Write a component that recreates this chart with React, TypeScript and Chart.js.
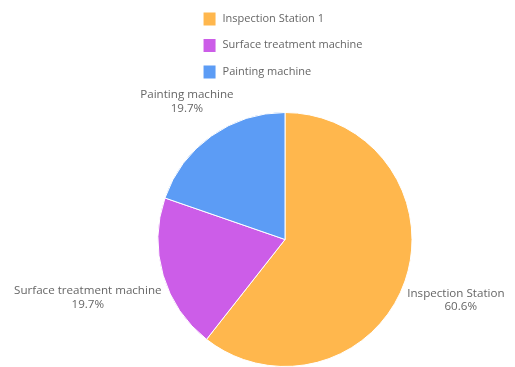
import React, { useEffect, useRef } from "react";
import { Chart, registerables } from "chart.js";

Chart.register(...registerables);

const categories = ["Inspection Station 1", "Surface treatment machine", "Painting machine"];
const values = [60.6, 19.7, 19.7];
const colors = ["#FFB74D", "#CC5DE8", "#5C9CF5"];

const LEGEND_FONT = "11px 'Open Sans', sans-serif";
const LABEL_FONT = "11.6px 'Open Sans', sans-serif";
const TEXT_COLOR = "#666666";

const customLegend = {
  id: "customLegend",
  afterDraw(chart: any) {
    const ctx = chart.ctx;
    const area = chart.chartArea;
    ctx.save();
    ctx.font = LEGEND_FONT;
    const box = 12;
    const gap = 7;
    const widths = categories.map((c) => box + gap + ctx.measureText(c).width);
    const maxW = Math.max(...widths);
    const cx = (area.left + area.right) / 2;
    const left = cx - maxW / 2 - 2;
    const rowH = 26.5;
    const top = 10.5;
    categories.forEach((c, i) => {
      const y = top + i * rowH;
      ctx.fillStyle = colors[i];
      ctx.fillRect(left, y - box / 2, box, box + 1);
      ctx.fillStyle = TEXT_COLOR;
      ctx.textBaseline = "middle";
      ctx.textAlign = "left";
      ctx.fillText(c, left + box + gap, y);
    });
    ctx.restore();
  },
};

const outsideLabels = {
  id: "outsideLabels",
  afterDatasetsDraw(chart: any) {
    const ctx = chart.ctx;
    const meta = chart.getDatasetMeta(0);
    const total = values.reduce((a, b) => a + b, 0);
    ctx.save();
    ctx.font = LABEL_FONT;
    ctx.fillStyle = TEXT_COLOR;
    ctx.textAlign = "center";
    ctx.textBaseline = "middle";
    const lineH = 13.5;
    meta.data.forEach((arc: any, i: number) => {
      const p = arc.getProps(["x", "y", "startAngle", "endAngle", "outerRadius"], true);
      const mid = (p.startAngle + p.endAngle) / 2;
      const vx = Math.cos(mid);
      const vy = Math.sin(mid);
      const line1 = categories[i];
      const line2 = ((values[i] / total) * 100).toFixed(1) + "%";
      const w = Math.max(ctx.measureText(line1).width, ctx.measureText(line2).width);
      const h = lineH * 2;
      const d = p.outerRadius + 4 + (w / 2) * Math.abs(vx) + (h / 2) * Math.abs(vy);
      const lx = p.x + vx * d;
      const ly = p.y + vy * d;
      ctx.fillText(line1, lx, ly - lineH / 2);
      ctx.fillText(line2, lx, ly + lineH / 2);
    });
    ctx.restore();
  },
};

export default function App() {
  const ref = useRef<HTMLCanvasElement | null>(null);
  useEffect(() => {
    if (!ref.current) return;
    const chart = new Chart(ref.current, {
      type: "pie",
      data: {
        labels: categories,
        datasets: [
          {
            data: values,
            backgroundColor: colors,
            borderColor: "#ffffff",
            borderWidth: 1,
          },
        ],
      },
      options: {
        animation: false,
        responsive: false,
        maintainAspectRatio: false,
        layout: { padding: { top: 104, left: 47, right: 0, bottom: 0 } },
        plugins: {
          legend: { display: false },
          tooltip: { enabled: false },
        },
      },
      plugins: [customLegend, outsideLabels],
    });
    return () => chart.destroy();
  }, []);
  return (
    <div style={{ width: 507, height: 359, position: "relative" }}>
      <canvas ref={ref} width={507} height={359} style={{ display: "block" }} />
    </div>
  );
}
